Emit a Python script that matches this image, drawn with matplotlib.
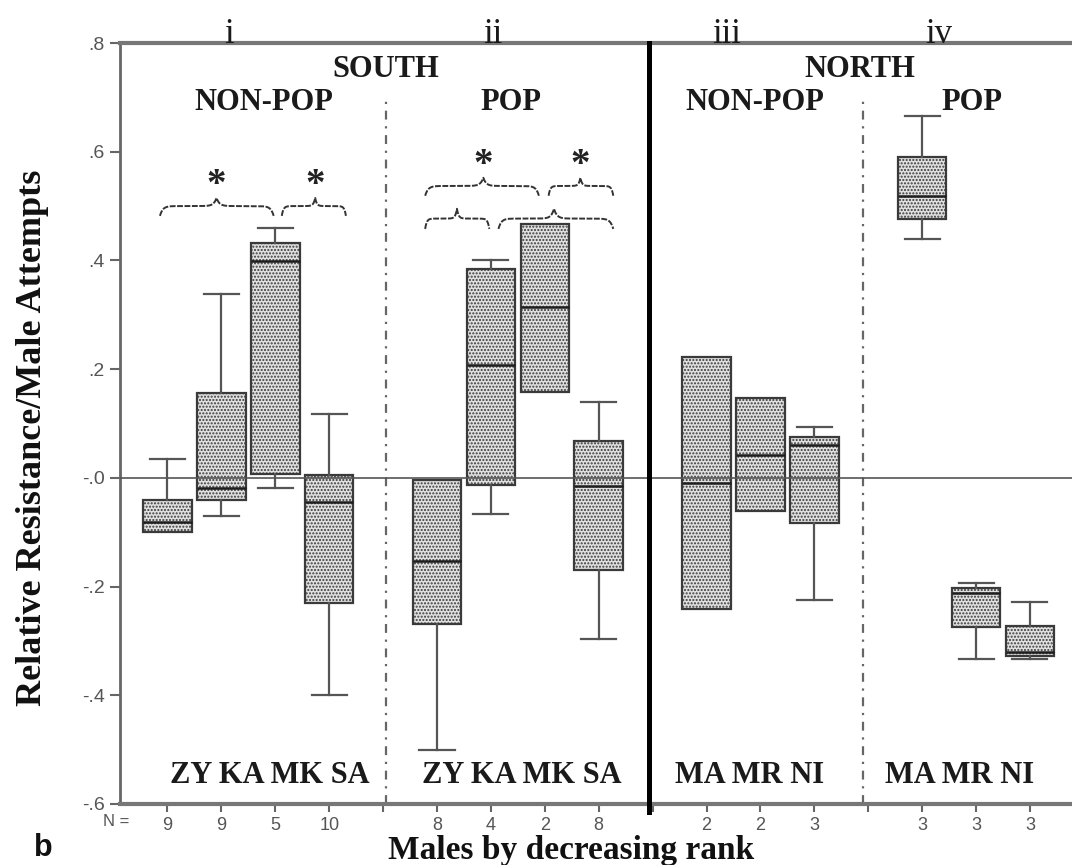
import numpy as np
import matplotlib

matplotlib.use("Agg")
import matplotlib.pyplot as plt

# ---- data ----
positions = [1, 2, 3, 4, 6, 7, 8, 9, 11, 12, 13, 15, 16, 17]
n_counts = [9, 9, 5, 10, 8, 4, 2, 8, 2, 2, 3, 3, 3, 3]
whislo = [-0.099, -0.070, -0.019, -0.400, -0.501, -0.067, 0.158, -0.297,
          -0.242, -0.061, -0.225, 0.440, -0.334, -0.334]
q1 = [-0.099, -0.041, 0.008, -0.231, -0.268, -0.013, 0.158, -0.169,
      -0.242, -0.061, -0.083, 0.477, -0.274, -0.328]
med = [-0.082, -0.018, 0.399, -0.044, -0.153, 0.208, 0.315, -0.015,
       -0.010, 0.042, 0.060, 0.518, -0.211, -0.321]
q3 = [-0.041, 0.157, 0.432, 0.006, -0.004, 0.385, 0.467, 0.068,
      0.223, 0.146, 0.076, 0.590, -0.202, -0.273]
whishi = [0.034, 0.339, 0.460, 0.117, -0.004, 0.401, 0.467, 0.140,
          0.223, 0.146, 0.093, 0.665, -0.194, -0.228]

group_males = ["ZY KA MK SA", "ZY KA MK SA", "MA MR NI", "MA MR NI"]
group_male_x = [2.9, 7.58, 11.8, 15.7]
group_names = ["NON-POP", "POP", "NON-POP", "POP"]
group_name_x = [2.78, 7.38, 11.9, 15.93]
region_names = ["SOUTH", "NORTH"]
region_x = [5.05, 13.85]
roman = ["i", "ii", "iii", "iv"]
roman_x = [2.14, 7.04, 11.38, 15.3]

# significance braces: (start, tip, end, y_end, y_flat, y_tip, star)
braces = [
    (0.86, 1.91, 2.97, 0.482, 0.500, 0.515, True),
    (3.12, 3.74, 4.31, 0.482, 0.500, 0.515, True),
    (5.78, 6.86, 7.89, 0.519, 0.537, 0.552, True),
    (8.07, 8.66, 9.27, 0.519, 0.537, 0.552, True),
    (5.78, 6.37, 6.97, 0.458, 0.477, 0.495, False),
    (7.14, 8.17, 9.27, 0.458, 0.477, 0.495, False),
]

SERIF = ["Liberation Serif", "DejaVu Serif"]
SANS = ["Liberation Sans", "DejaVu Sans"]
GREY = "#666666"


def draw_brace(ax, x0, xt, x1, y_end, y_flat, y_tip):
    xl = np.linspace(x0, xt, 200)
    u = (xl - x0) / (xt - x0)
    yl = y_flat - (y_flat - y_end) * np.exp(-u / 0.05) + (y_tip - y_flat) * np.exp(-(1 - u) / 0.05)
    xr = np.linspace(xt, x1, 200)
    v = (x1 - xr) / (x1 - xt)
    yr = y_flat - (y_flat - y_end) * np.exp(-v / 0.05) + (y_tip - y_flat) * np.exp(-(1 - v) / 0.05)
    ax.plot(np.r_[xl, xr], np.r_[yl, yr], color="#333333", lw=1.4,
            ls=(0, (3, 0.8)), solid_capstyle="round")


plt.rcParams["hatch.linewidth"] = 1.0
fig = plt.figure(figsize=(10.72, 8.65), dpi=100)
ax = fig.add_axes([120 / 1072, 61 / 865, 952 / 1072, 761 / 865])

stats = [
    {"med": m, "q1": a, "q3": b, "whislo": lo, "whishi": hi, "fliers": []}
    for m, a, b, lo, hi in zip(med, q1, q3, whislo, whishi)
]
bp = ax.bxp(
    stats, positions=positions, widths=0.9, capwidths=0.65,
    patch_artist=True, showfliers=False,
    boxprops=dict(facecolor="#e0e0e0", edgecolor="#3a3a3a", hatch=".....", linewidth=1.6),
    medianprops=dict(color="#1e1e1e", linewidth=1.8),
    whiskerprops=dict(color="#555555", linewidth=1.6),
    capprops=dict(color="#555555", linewidth=1.6),
    zorder=3,
)
for i in range(len(stats)):
    if abs(whislo[i] - q1[i]) < 1e-9:
        bp["caps"][2 * i].set_visible(False)
    if abs(whishi[i] - q3[i]) < 1e-9:
        bp["caps"][2 * i + 1].set_visible(False)

ax.set_xlim(0.119, 17.78)
ax.set_ylim(-0.6, 0.8)

# reference line and dividers
ax.axhline(0, color="#555555", lw=1.2, zorder=4)
ax.plot([5.05, 5.05], [-0.6, 0.70], color=GREY, lw=1.6, ls=(0, (4, 3, 1, 3)), zorder=2)
ax.plot([13.9, 13.9], [-0.6, 0.70], color=GREY, lw=1.6, ls=(0, (4, 3, 1, 3)), zorder=2)
ax.plot([9.93, 9.93], [-0.615, 0.8], color="black", lw=3.6, zorder=5, clip_on=False)

for x0, xt, x1, ye, yf, yt, star in braces:
    draw_brace(ax, x0, xt, x1, ye, yf, yt)
    if star:
        ax.text(xt, yt - 0.012, "*", ha="center", va="bottom", fontsize=28,
                family=SERIF, fontweight="bold", color="#222222")

# labels inside the plot
for name, x in zip(region_names, region_x):
    ax.text(x, 0.751, name, ha="center", va="center", fontsize=22,
            family=SERIF, fontweight="bold", color="#1a1a1a")
for name, x in zip(group_names, group_name_x):
    ax.text(x, 0.69, name, ha="center", va="center", fontsize=22,
            family=SERIF, fontweight="bold", color="#1a1a1a")
for name, x in zip(group_males, group_male_x):
    ax.text(x, -0.548, name, ha="center", va="center", fontsize=22,
            family=SERIF, fontweight="bold", color="#1a1a1a")
for name, x in zip(roman, roman_x):
    ax.text(x, 0.8, name, ha="center", va="baseline", fontsize=25,
            family=SERIF, color="#1a1a1a", clip_on=False)

# axes styling
ax.spines["right"].set_visible(False)
ax.spines["left"].set_color(GREY)
ax.spines["left"].set_linewidth(2)
ax.spines["top"].set_color("#777777")
ax.spines["top"].set_linewidth(3)
ax.spines["bottom"].set_color("#777777")
ax.spines["bottom"].set_linewidth(3)

yt_vals = [0.8, 0.6, 0.4, 0.2, 0.0, -0.2, -0.4, -0.6]
yt_labels = [".8", ".6", ".4", ".2", "-.0", "-.2", "-.4", "-.6"]
ax.set_yticks(yt_vals)
ax.set_yticklabels(yt_labels, family=SANS, fontsize=14, color="#555555")
ax.tick_params(axis="y", length=7, width=1.5, color=GREY, pad=4)

xt_pos = list(range(1, 18))
xt_lab = []
for p in xt_pos:
    xt_lab.append(str(n_counts[positions.index(p)]) if p in positions else "")
ax.set_xticks(xt_pos)
ax.set_xticklabels(xt_lab, family=SANS, fontsize=13, color="#555555")
ax.tick_params(axis="x", length=6, width=1.5, color=GREY, pad=3)

fig.text(116 / 1072, 1 - 822 / 865, "N =", ha="center", va="center", fontsize=12,
         family=SANS, color="#555555")
fig.text(43 / 1072, 1 - 848 / 865, "b", ha="center", va="center", fontsize=22,
         family=SANS, fontweight="bold", color="#111111")
fig.text(571 / 1072, 1 - 850 / 865, "Males by decreasing rank", ha="center", va="center",
         fontsize=24, family=SERIF, fontweight="bold", color="#111111")
fig.text(33 / 1072, 1 - 438 / 865, "Relative Resistance/Male Attempts", ha="center", va="center",
         rotation=90, fontsize=26, family=SERIF, fontweight="bold", color="#111111")

fig.savefig("out.png", dpi=100)
